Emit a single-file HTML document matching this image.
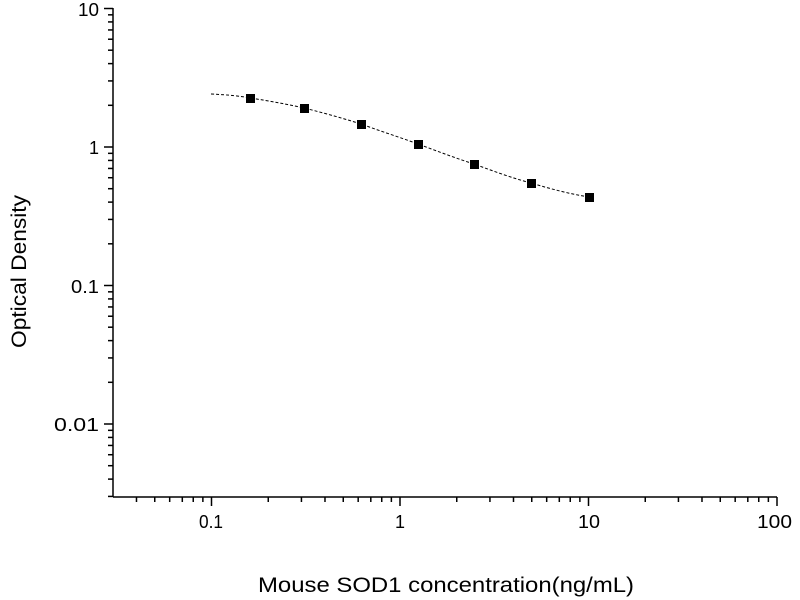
<!DOCTYPE html>
<html><head><meta charset="utf-8"><style>body{margin:0;background:#fff}svg{display:block}</style></head>
<body>
<svg id="s" width="800" height="600" xmlns="http://www.w3.org/2000/svg" font-family="Liberation Sans, Arial, sans-serif">
<rect width="800" height="600" fill="#fff"/>
<g id="g" stroke="#000" stroke-width="1.5" fill="none">
<line x1="113" y1="8" x2="113" y2="497"/>
<line x1="113" y1="497" x2="777" y2="497"/>
</g>
<path d="M211,94 C230,95 240,96 250,98 C270,101 286,104 304,108 C324,113 342,118 361,124 C380,131 399,137 418,144 C437,151 455,158 474,164 C493,171 512,178 531,183 C551,189 570,194 589,197" stroke="#000" stroke-width="1" fill="none" stroke-dasharray="3,2"/>
<g fill="#000">
<rect x="246" y="94" width="9" height="9"/>
<rect x="300" y="104" width="9" height="9"/>
<rect x="357" y="120" width="9" height="9"/>
<rect x="414" y="140" width="9" height="9"/>
<rect x="470" y="160" width="9" height="9"/>
<rect x="527" y="179" width="9" height="9"/>
<rect x="585" y="193" width="9" height="9"/>
</g>
<g style="font-size:18px" fill="#000">
<text x="78" y="16" textLength="21" lengthAdjust="spacingAndGlyphs">10</text>
<text x="89" y="154" textLength="10" lengthAdjust="spacingAndGlyphs">1</text>
<text x="71" y="293" textLength="28" lengthAdjust="spacingAndGlyphs">0.1</text>
<text x="54" y="431" textLength="45" lengthAdjust="spacingAndGlyphs">0.01</text>
<text x="199" y="528" textLength="24" lengthAdjust="spacingAndGlyphs">0.1</text>
<text x="395" y="528" textLength="10" lengthAdjust="spacingAndGlyphs">1</text>
<text x="578" y="528" textLength="22" lengthAdjust="spacingAndGlyphs">10</text>
<text x="757" y="528" textLength="35" lengthAdjust="spacingAndGlyphs">100</text>
</g>
<text x="258" y="592" style="font-size:21px" textLength="376" lengthAdjust="spacingAndGlyphs">Mouse SOD1 concentration(ng/mL)</text>
<text transform="translate(26,348) rotate(-90)" style="font-size:21px" textLength="153" lengthAdjust="spacingAndGlyphs">Optical Density</text>
</svg>
<script>
var g=document.getElementById('g'),ns='http://www.w3.org/2000/svg';
function L(a,b,c,d){var l=document.createElementNS(ns,'line');l.setAttribute('x1',a);l.setAttribute('y1',b);l.setAttribute('x2',c);l.setAttribute('y2',d);g.appendChild(l);}
for(var e=-3;e<=1;e++){for(var m=1;m<10;m++){var v=e+Math.log10(m);var y=147-138.5*v;if(y<7||y>497)continue;if(m==1)L(104,y,113,y);else L(108,y,113,y);}}
for(var e=-2;e<=2;e++){for(var m=1;m<10;m++){var v=e+Math.log10(m);var x=400+188.5*v;if(x<113||x>778)continue;if(m==1)L(x,497,x,506);else L(x,497,x,502);}}
</script>
</body></html>
